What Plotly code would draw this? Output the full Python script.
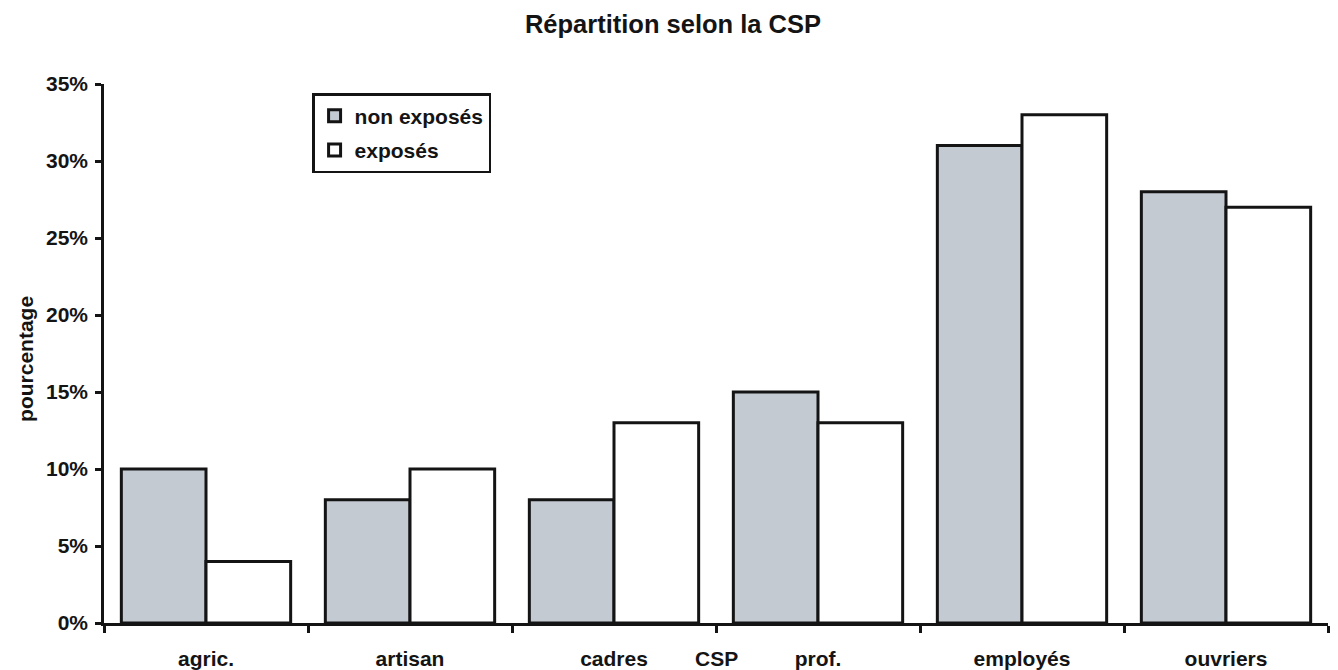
import plotly.graph_objects as go

categories = ["agric.", "artisan", "cadres", "prof.", "employés", "ouvriers"]
non_exposes = [0.10, 0.08, 0.08, 0.15, 0.31, 0.28]
exposes = [0.04, 0.10, 0.13, 0.13, 0.33, 0.27]
y_ticks = [0, 0.05, 0.10, 0.15, 0.20, 0.25, 0.30, 0.35]

font_family = "Liberation Sans, Arial, sans-serif"
ink = "#141414"

fig = go.Figure()
fig.add_trace(go.Bar(
    name="<b>non exposés</b>", x=categories, y=non_exposes, legendgroup="a",
    marker=dict(color="#c4cad2", line=dict(color=ink, width=3)),
))
fig.add_trace(go.Bar(
    name="<b>exposés</b>", x=categories, y=exposes, legendgroup="b",
    marker=dict(color="#ffffff", line=dict(color=ink, width=3)),
))

fig.update_layout(
    width=1338, height=670,
    paper_bgcolor="white", plot_bgcolor="white",
    margin=dict(l=96, r=18, t=76, b=55, autoexpand=False),
    barmode="group", bargap=0.17, bargroupgap=0,
    font=dict(family=font_family, size=21, color=ink),
    title=dict(text="<b>Répartition selon la CSP</b>", x=0.497, xanchor="center",
               xref="container", y=0.976, yanchor="middle", font=dict(size=25.5)),
    showlegend=True,
    legend=dict(x=0.1700, y=0.983, xanchor="left", yanchor="top",
                bordercolor=ink, borderwidth=2.5, bgcolor="white",
                font=dict(size=21, family=font_family), itemwidth=30,
                tracegroupgap=4, traceorder="grouped"),
)
fig.update_xaxes(
    type="category", showline=True, linecolor=ink, linewidth=2.5,
    ticks="outside", tickson="boundaries", ticklen=7, tickwidth=2.5, tickcolor=ink,
    tickfont=dict(size=21), showgrid=False, automargin=False,
    tickvals=categories, ticktext=["<b>%s</b>" % c for c in categories],
    ticklabelstandoff=15,
)
fig.update_yaxes(
    range=[0, 0.35], tickvals=y_ticks,
    ticktext=["<b>%d%%</b>" % round(v * 100) for v in y_ticks],
    showline=True, linecolor=ink, linewidth=2.5,
    ticks="outside", ticklen=6, tickwidth=2.5, tickcolor=ink,
    showgrid=False, zeroline=False, automargin=False,
    tickfont=dict(size=21), ticklabelstandoff=3,
)
fig.add_annotation(text="<b>pourcentage</b>", xref="paper", yref="paper", x=0, y=0.49,
                   xanchor="center", yanchor="middle",
                   xshift=-78, textangle=-90, showarrow=False,
                   font=dict(size=21))
fig.add_annotation(text="<b>CSP</b>", xref="paper", yref="paper", x=0.5, y=0,
                   yanchor="middle", yshift=-35, showarrow=False, font=dict(size=21))

fig.write_html("out.html")
